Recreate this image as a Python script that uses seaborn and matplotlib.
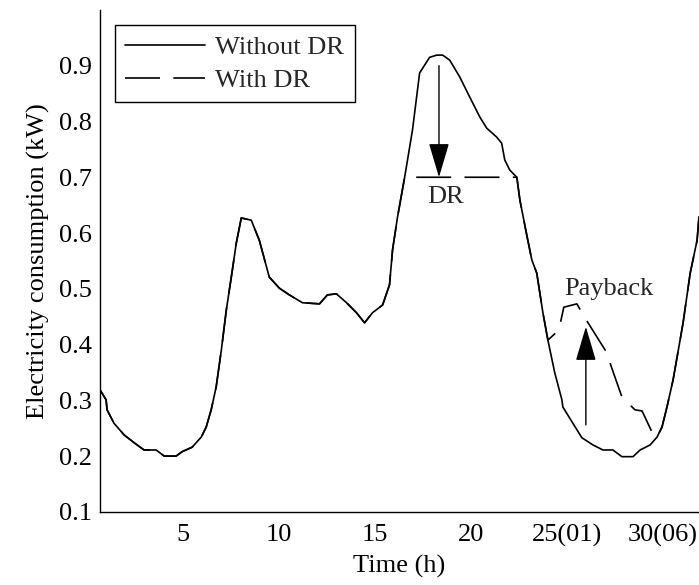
import numpy as np
import pandas as pd
import matplotlib
matplotlib.use("Agg")
import matplotlib.pyplot as plt
import seaborn as sns

# load profile (time in h, consumption in kW)
time_h = [0.66, 0.98, 1.03, 1.39, 1.92, 2.44, 2.96, 3.59, 4.01, 4.63, 4.95, 5.47, 5.94,
          6.20, 6.46, 6.72, 6.99, 7.25, 7.51, 7.77, 8.03, 8.55, 8.97, 9.49, 10.02, 10.54,
          11.22, 12.11, 12.52, 12.99, 13.52, 14.04, 14.46, 14.87, 15.40, 15.76, 15.92,
          16.18, 16.55, 16.96, 17.33, 17.59, 17.85, 18.22, 18.53, 18.90, 19.42, 19.94,
          20.47, 20.83, 21.35, 21.61, 21.77, 22.03, 22.40, 22.56, 22.92, 23.18, 23.44,
          23.76, 24.02, 24.38, 24.75, 24.80, 25.32, 25.79, 26.37, 26.89, 27.41, 27.88,
          28.46, 28.83, 29.35, 29.71, 29.97, 30.23, 30.55, 30.76, 31.07, 31.44, 31.80, 31.90]
without_dr = [0.319, 0.301, 0.283, 0.259, 0.238, 0.224, 0.211, 0.211, 0.200, 0.200, 0.208,
              0.216, 0.234, 0.252, 0.283, 0.324, 0.390, 0.462, 0.521, 0.582, 0.627, 0.623,
              0.587, 0.521, 0.501, 0.489, 0.475, 0.473, 0.489, 0.491, 0.475, 0.457, 0.439,
              0.457, 0.471, 0.507, 0.570, 0.629, 0.700, 0.785, 0.887, 0.901, 0.915, 0.919,
              0.919, 0.910, 0.880, 0.844, 0.808, 0.788, 0.772, 0.761, 0.731, 0.713, 0.700,
              0.659, 0.596, 0.552, 0.528, 0.457, 0.408, 0.349, 0.301, 0.288, 0.259, 0.233,
              0.220, 0.211, 0.211, 0.199, 0.199, 0.211, 0.220, 0.234, 0.252, 0.288, 0.337,
              0.378, 0.439, 0.528, 0.587, 0.629]

# demand response: peak capped, then payback after midnight
cap_time = [16.55, 22.40]
cap_value = [0.70, 0.70]
payback_time = [24.59, 24.85, 25.53, 25.95, 27.10, 27.31, 27.88, 28.56, 28.93, 29.45]
payback_value = [0.426, 0.467, 0.473, 0.448, 0.385, 0.362, 0.306, 0.283, 0.281, 0.243]

xtick_pos = [5, 10, 15, 20, 25, 30]
xtick_labels = ["5", "10", "15", "20", "25(01)", "30(06)"]
ytick_pos = [0.1, 0.2, 0.3, 0.4, 0.5, 0.6, 0.7, 0.8, 0.9]

base = pd.DataFrame({"time": time_h, "kw": without_dr})
keep = (base.time < cap_time[0]) | ((base.time > cap_time[1]) & (base.time < 24.1)) | (base.time > 29.6)
with_dr = pd.concat([base[keep],
                     pd.DataFrame({"time": cap_time, "kw": cap_value}),
                     pd.DataFrame({"time": payback_time, "kw": payback_value})])
with_dr = with_dr.sort_values("time").reset_index(drop=True)

sns.set_theme(style="white")
plt.rcParams["font.family"] = ["Liberation Serif", "DejaVu Serif"]
plt.rcParams["font.size"] = 19

fig = plt.figure(figsize=(6.99, 5.85), dpi=100)
ax = fig.add_axes([0.143, 0.125, 0.857, 0.858])

sns.lineplot(x="time", y="kw", data=base, color="black", lw=1.2, label="Without DR", ax=ax)
sns.lineplot(x="time", y="kw", data=with_dr, color="black", lw=1.2, label="With DR", ax=ax)
ax.lines[1].set_dashes((21, 8))

arrow = dict(arrowstyle="-|>,head_length=1.08,head_width=0.32",
             color="black", lw=1.0, mutation_scale=20, shrinkA=0, shrinkB=0)
ax.annotate("", xy=(18.34, 0.70), xytext=(18.34, 0.90), arrowprops=arrow)
ax.annotate("", xy=(26.0, 0.432), xytext=(26.0, 0.256), arrowprops=arrow)
ax.text(18.7, 0.654, "DR", ha="center", va="baseline", fontsize=19)
ax.text(27.2, 0.489, "Payback", ha="center", va="baseline", fontsize=19)

ax.set_xlim(0.66, 31.9)
ax.set_ylim(0.1, 1.0)
ax.set_xticks(xtick_pos)
ax.set_xticklabels(xtick_labels)
ax.set_yticks(ytick_pos)
ax.set_yticklabels([f"{v:.1f}" for v in ytick_pos])
ax.tick_params(direction="in", length=5, width=1, colors="black", labelsize=19)
ax.tick_params(axis="x", pad=9)
ax.tick_params(axis="y", pad=6)
ax.set_xlabel("Time (h)", fontsize=19, color="black", labelpad=5)
ax.set_ylabel("Electricity consumption (kW)", fontsize=19, color="black", labelpad=6)
for side in ["top", "right"]:
    ax.spines[side].set_visible(False)
for side in ["left", "bottom"]:
    ax.spines[side].set_color("black")
    ax.spines[side].set_linewidth(1.0)

leg = ax.legend(loc="upper left", bbox_to_anchor=(0.025, 0.97), borderaxespad=0,
                handlelength=3.0, handletextpad=0.4, labelspacing=0.35, fontsize=19,
                frameon=True, fancybox=False, framealpha=1, borderpad=0.4)
leg.get_frame().set_edgecolor("black")
leg.get_frame().set_linewidth(1.0)

fig.savefig("out.png", dpi=100)
